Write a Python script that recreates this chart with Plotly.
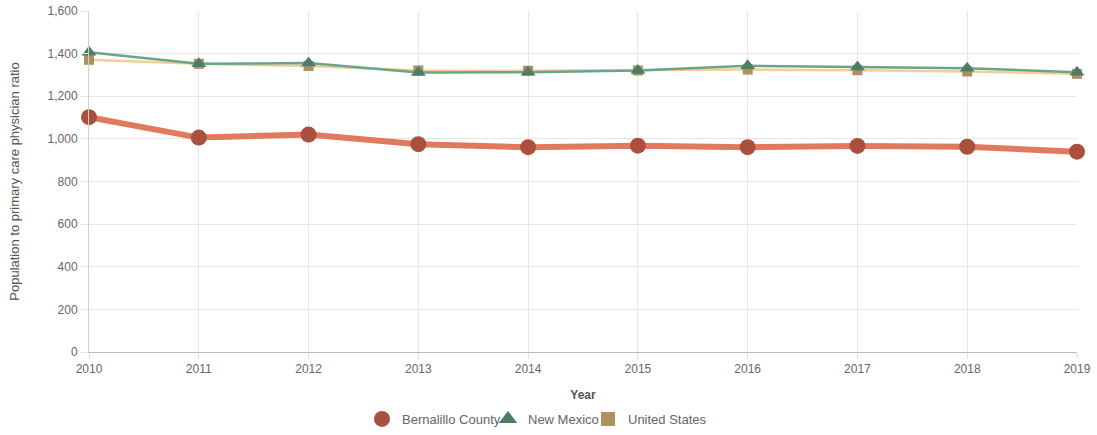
import plotly.graph_objects as go

years = [2010, 2011, 2012, 2013, 2014, 2015, 2016, 2017, 2018, 2019]
bernalillo = [1102, 1006, 1020, 975, 961, 968, 961, 967, 963, 940]
new_mexico = [1406, 1352, 1356, 1312, 1313, 1321, 1343, 1337, 1331, 1313]
united_states = [1371, 1352, 1342, 1321, 1320, 1321, 1325, 1322, 1316, 1305]

series = [
    # name, values, line colour, line width, marker symbol, marker size, marker colour
    ("United States", united_states, "#f3cf93", 2.5, "square", 10, "#ae9160"),
    ("New Mexico", new_mexico, "#69a58a", 2.5, "triangle-up", 13, "#4e7d67"),
    ("Bernalillo County", bernalillo, "#e07a5f", 6, "circle", 16, "#a9513e"),
]

fig = go.Figure()
for name, vals, lc, lw, sym, ms, mc in series:
    fig.add_trace(go.Scatter(
        x=years, y=vals, name=name, mode="lines+markers", showlegend=False,
        line=dict(color=lc, width=lw), cliponaxis=False,
        marker=dict(symbol=sym, size=ms, color=mc),
    ))

# one legend per series so each entry sits at its own spot, marker only
legend_slots = {
    "Bernalillo County": ("legend", 362, 22),
    "New Mexico": ("legend2", 488, 16),
    "United States": ("legend3", 588, 14),
}
for name, vals, lc, lw, sym, ms, mc in reversed(series):
    lg, left_px, size = legend_slots[name]
    fig.add_trace(go.Scatter(
        x=[None], y=[None], name=name, mode="markers", showlegend=True, legend=lg,
        marker=dict(symbol=sym, size=size, color=mc),
    ))

legend_common = dict(
    orientation="h", xanchor="left", xref="container",
    y=1 - 419 / 435, yanchor="middle", yref="container",
    font=dict(size=13, color="#666666"), itemsizing="trace", itemwidth=30,
    bgcolor="rgba(0,0,0,0)",
)

fig.update_layout(
    width=1097, height=435,
    margin=dict(l=89, r=20, t=11, b=83, autoexpand=False),
    paper_bgcolor="white", plot_bgcolor="white",
    font=dict(family="Liberation Sans, Arial, sans-serif", size=12, color="#666666"),
    showlegend=True,
    legend=dict(x=legend_slots["Bernalillo County"][1] / 1097, **legend_common),
    legend2=dict(x=legend_slots["New Mexico"][1] / 1097, **legend_common),
    legend3=dict(x=legend_slots["United States"][1] / 1097, **legend_common),
    hovermode="closest",
)
fig.update_xaxes(
    range=[2010, 2019], tickmode="array", tickvals=years, ticktext=[str(y) for y in years],
    showgrid=True, gridcolor="#e6e6e6", gridwidth=1,
    showline=True, linecolor="#bdbdbd", linewidth=1,
    ticks="outside", ticklen=6, tickcolor="#e0e0e0",
    title=dict(text="<b>Year</b>", font=dict(size=12, color="#555555"), standoff=15),
    zeroline=False, automargin=False,
)
fig.update_yaxes(
    range=[0, 1600], dtick=200, tickformat=",",
    showgrid=True, gridcolor="#e6e6e6", gridwidth=1,
    showline=True, linecolor="#d0d0d0", linewidth=1,
    ticks="outside", ticklen=8, tickcolor="#e6e6e6",
    title=dict(text="Population to primary care physician ratio",
               font=dict(size=13, color="#555555"), standoff=25),
    zeroline=False, automargin=False,
)

fig.write_html("out.html")
